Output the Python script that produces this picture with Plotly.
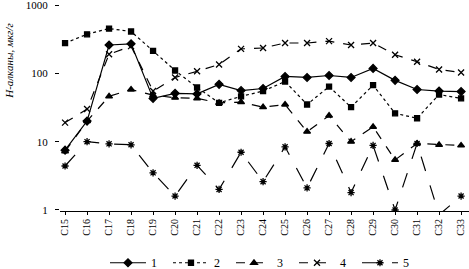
import plotly.graph_objects as go

categories = ["C15", "C16", "C17", "C18", "C19", "C20", "C21", "C22", "C23", "C24",
              "C25", "C26", "C27", "C28", "C29", "C30", "C31", "C32", "C33"]
s1 = [7.5, 20, 260, 270, 43, 51, 50, 69, 56, 60, 90, 87, 93, 87, 118, 79, 58, 55, 54]
s2 = [277, 373, 452, 410, 213, 110, 62, 37, 46, 55, 76, 35, 64, 32, 67, 26, 22, 49, 43]
s3 = [7.2, 20, 46, 58, 48, 44, 43, 37, 38, 32, 35, 14, 24, 10, 16.5, 5.4, 9.4, 9, 8.8]
s4 = [19, 30, 190, 250, 55, 87, 107, 135, 228, 235, 278, 278, 296, 260, 278, 187, 148, 114, 103]
s5 = [4.4, 10, 9.3, 9, 3.5, 1.6, 4.5, 2.0, 7.0, 2.6, 8.4, 2.1, 9.4, 1.8, 8.8, 1.0, 9.4, 0.85, 1.6]
names = ["1", "2", "3", "4", "5"]
ytick_vals = [1, 10, 100, 1000]
ytick_text = ["1", "10", "100", "1000"]

series = [s1, s2, s3, s4, s5]
dashes = ["solid", "dot", "dash", "dash", "longdash"]
symbols = ["diamond", "square", "triangle-up", "x-thin", "asterisk"]
sizes = [6, 5, 6, 6, 6]

fig = go.Figure()
for name, ys, d, sym, sz in zip(names, series, dashes, symbols, sizes):
    fig.add_trace(go.Scatter(
        x=categories, y=ys, name=name, mode="lines+markers",
        line=dict(color="black", width=1.2, dash=d),
        marker=dict(symbol=sym, size=sz, color="black",
                    line=dict(color="black", width=1.3)),
    ))

fig.update_layout(
    width=469, height=269,
    margin=dict(l=60, r=0, t=4, b=58, autoexpand=False),
    paper_bgcolor="white", plot_bgcolor="white",
    font=dict(family="Liberation Serif", size=11, color="black"),
    showlegend=True,
    legend=dict(orientation="h", x=0.11, xanchor="left", y=-0.25, yanchor="middle",
                font=dict(size=12), itemwidth=36, entrywidth=12, entrywidthmode="pixels",
                tracegroupgap=0, bgcolor="rgba(0,0,0,0)"),
    xaxis=dict(
        type="category", range=[-0.23, 18.36], automargin=False,
        showline=True, linecolor="black", linewidth=1,
        showgrid=False, zeroline=False,
        ticks="outside", ticklen=3, tickcolor="black",
        tickangle=-90, tickfont=dict(size=10),
    ),
    yaxis=dict(
        type="log", range=[-0.015, 3.015], automargin=False,
        tickvals=ytick_vals, ticktext=ytick_text,
        showline=False, showgrid=False, zeroline=False,
        ticks="outside", ticklen=4, tickcolor="black",
        ticklabelstandoff=5, ticklabeloverflow="allow",
        tickfont=dict(size=11),
    ),
)
fig.add_annotation(
    text="<i>Н-алканы, мкг/г</i>", xref="paper", yref="paper",
    x=-0.125, y=0.725, xanchor="center", yanchor="middle",
    textangle=-90, showarrow=False, font=dict(size=11),
)

fig.write_html(
    "out.html",
    config={"displayModeBar": False},
    post_script="document.body.style.margin='0';document.body.style.padding='0';",
)
